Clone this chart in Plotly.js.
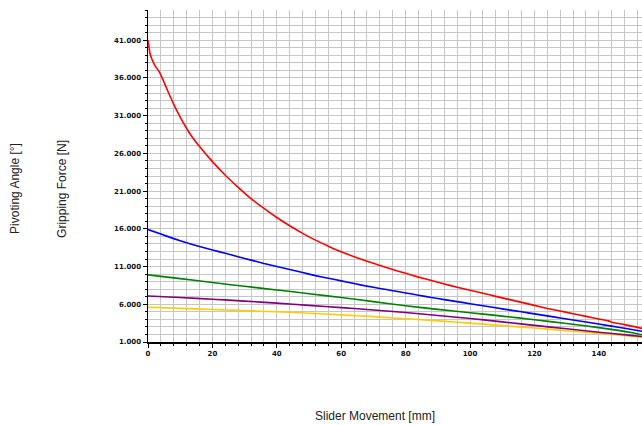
<!DOCTYPE html>
<html>
<head>
<meta charset="utf-8">
<script src="https://cdn.plot.ly/plotly-3.0.1.min.js"></script>
<style>html,body{margin:0;padding:0;background:#fff;}#chart{width:642px;height:425px;}</style>
</head>
<body>
<div id="chart"></div>
<script>
// Slider movement [mm] sample positions and curves
const redX = [0, 0.6, 1.2, 2.2, 3.5, 4.5, 6, 8, 10, 12, 14, 16, 20, 24, 28, 32, 36, 40, 44, 48, 52, 56, 60, 64, 68, 72, 76, 80, 84, 88, 92, 96, 100, 104, 108, 112, 116, 120, 124, 128, 132, 136, 140, 143, 144, 148, 153.4];
const redY = [41, 39.3, 38.5, 37.6, 36.8, 35.9, 34.4, 32.5, 30.8, 29.3, 28.0, 26.9, 24.9, 23.1, 21.5, 20.0, 18.7, 17.5, 16.4, 15.4, 14.5, 13.7, 12.95, 12.3, 11.7, 11.15, 10.6, 10.1, 9.6, 9.15, 8.7, 8.25, 7.85, 7.45, 7.05, 6.65, 6.25, 5.85, 5.45, 5.1, 4.75, 4.4, 4.05, 3.8, 3.62, 3.3, 2.8];

const blueX = [0, 4, 8, 12, 16, 20, 24, 28, 32, 36, 40, 44, 48, 52, 56, 60, 64, 68, 72, 76, 80, 84, 88, 92, 96, 100, 104, 108, 112, 116, 120, 124, 128, 132, 136, 140, 144, 148, 153.4];
const blueY = [15.9, 15.3, 14.7, 14.15, 13.65, 13.2, 12.75, 12.3, 11.85, 11.4, 11.0, 10.6, 10.2, 9.8, 9.45, 9.1, 8.75, 8.4, 8.1, 7.8, 7.5, 7.2, 6.9, 6.62, 6.35, 6.08, 5.8, 5.53, 5.26, 5.0, 4.73, 4.46, 4.19, 3.92, 3.65, 3.38, 3.1, 2.82, 2.42];

const sharedX = [0, 10, 20, 30, 40, 50, 60, 70, 80, 90, 100, 110, 120, 130, 140, 150, 153.4];
const greenY = [9.9, 9.4, 8.88, 8.38, 7.9, 7.4, 6.9, 6.35, 5.8, 5.32, 4.88, 4.43, 3.95, 3.45, 2.9, 2.25, 1.95];
const purpleY = [7.1, 6.9, 6.67, 6.42, 6.15, 5.86, 5.56, 5.24, 4.9, 4.52, 4.12, 3.67, 3.2, 2.75, 2.3, 1.88, 1.72];
const yellowY = [5.6, 5.46, 5.31, 5.16, 5.0, 4.81, 4.6, 4.36, 4.08, 3.8, 3.5, 3.17, 2.85, 2.5, 2.14, 1.76, 1.62];

const xTitle = "Slider Movement [mm]";
const yTitle1 = "Pivoting Angle [°]";
const yTitle2 = "Gripping Force [N]";

function line(x, y, color) {
  return {x: x, y: y, type: 'scatter', mode: 'lines', line: {color: color, width: 1.6, shape: 'spline', smoothing: 0.5}, hoverinfo: 'skip', showlegend: false};
}

const data = [
  line(sharedX, yellowY, '#ffcc00'),
  line(sharedX, purpleY, '#800080'),
  line(sharedX, greenY, '#008000'),
  line(blueX, blueY, '#0000ff'),
  line(redX, redY, '#ff0000')
];

const tickFont = {family: 'DejaVu Sans, Verdana, sans-serif', size: 7, color: '#111', weight: 'bold'};
const gridC = '#c6c6c6';

const layout = {
  width: 642, height: 425,
  margin: {l: 148, r: 0, t: 10, b: 83},
  paper_bgcolor: '#fff', plot_bgcolor: '#fff',
  showlegend: false,
  xaxis: {
    range: [0, 153.4], tick0: 0, dtick: 20, fixedrange: true,
    ticks: 'outside', ticklen: 4, tickwidth: 1, tickcolor: '#000',
    showline: true, linecolor: '#000', linewidth: 1.5,
    showgrid: true, gridcolor: gridC, gridwidth: 1, zeroline: false,
    tickfont: tickFont,
    minor: {dtick: 4, showgrid: true, gridcolor: gridC, gridwidth: 1, ticks: 'outside', ticklen: 2, tickcolor: '#000'}
  },
  yaxis: {
    range: [1, 45], tick0: 1, dtick: 5, tickformat: '.3f', fixedrange: true,
    ticks: 'outside', ticklen: 4, tickwidth: 1, tickcolor: '#000',
    showline: true, linecolor: '#000', linewidth: 1.5,
    showgrid: true, gridcolor: gridC, gridwidth: 1, zeroline: false,
    tickfont: tickFont,
    minor: {dtick: 1, showgrid: true, gridcolor: gridC, gridwidth: 1, ticks: 'outside', ticklen: 2, tickcolor: '#000'}
  },
  annotations: [
    {text: xTitle, xref: 'paper', yref: 'paper', x: 0.46, y: -0.222, yanchor: 'middle', xanchor: 'center', showarrow: false,
     font: {family: 'Liberation Sans, Arial, sans-serif', size: 12, color: '#222'}},
    {text: yTitle1, xref: 'paper', yref: 'paper', x: (15 - 148) / 494, y: 0.461, xanchor: 'center', yanchor: 'middle', textangle: -90, showarrow: false,
     font: {family: 'Liberation Sans, Arial, sans-serif', size: 12, color: '#222'}},
    {text: yTitle2, xref: 'paper', yref: 'paper', x: (62 - 148) / 494, y: 0.461, xanchor: 'center', yanchor: 'middle', textangle: -90, showarrow: false,
     font: {family: 'Liberation Sans, Arial, sans-serif', size: 12, color: '#222'}}
  ]
};

Plotly.newPlot('chart', data, layout, {displayModeBar: false, staticPlot: true});
</script>
</body>
</html>
